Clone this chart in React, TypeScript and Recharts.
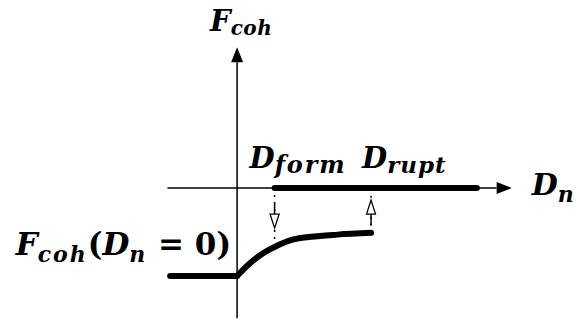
import { ComposedChart, Line, XAxis, YAxis, ReferenceLine, ReferenceDot } from "recharts";

// normalised: F_coh(D_n = 0) = -1, D_rupt = 1
const D_FORM = 0.28;
const D_RUPT = 1.0;
const D_END = 1.79;

const contactBranch = [
  { dn: -0.5, f: -1 },
  { dn: 0, f: -1 },
];

const openingBranch = [
  { dn: 0, f: -1 },
  { dn: 0.1, f: -0.85 },
  { dn: 0.2, f: -0.735 },
  { dn: 0.28, f: -0.67 },
  { dn: 0.42, f: -0.585 },
  { dn: 0.55, f: -0.555 },
  { dn: 0.75, f: -0.53 },
  { dn: 1.0, f: -0.51 },
];

const formedBranch = [
  { dn: D_FORM, f: 0 },
  { dn: D_END, f: 0 },
];

const xAxisSpan = [-0.52, 2.05];
const yAxisSpan = [-1.48, 1.6];

type Part = { t: string; sub?: boolean; up?: boolean };
const fLabel: Part[] = [{ t: "F" }, { t: "coh", sub: true }];
const dnLabel: Part[] = [{ t: "D" }, { t: "n", sub: true }];
const formLabel: Part[] = [{ t: "D" }, { t: "form", sub: true }];
const ruptLabel: Part[] = [{ t: "D" }, { t: "rupt", sub: true }];
const f0Label: Part[] = [...fLabel, { t: "(", up: true }, ...dnLabel, { t: " = 0)", up: true }];

const fAt = (dn: number) => openingBranch.find((d) => d.dn === dn)?.f ?? 0;

function MathText({ x, y, parts, anchor = "start", size = 30, sub = 21, subGap = 0, drop = 6 }: any) {
  let shift = 0;
  return (
    <text
      x={x}
      y={y}
      textAnchor={anchor}
      fontFamily="'DejaVu Serif', serif"
      fontWeight="bold"
      fill="#000"
      style={{ whiteSpace: "pre" }}
    >
      {parts.map((p: Part, i: number) => {
        const target = p.sub ? drop : 0;
        const dy = target - shift;
        shift = target;
        return (
          <tspan
            key={i}
            dy={dy}
            fontSize={p.sub ? sub : size}
            fontStyle={p.up ? "normal" : "italic"}
            letterSpacing={p.sub ? subGap : 0}
          >
            {p.t}
          </tspan>
        );
      })}
    </text>
  );
}

const axisArrow = (p: any) => {
  const { x1, y1, x2, y2 } = p;
  const len = Math.hypot(x2 - x1, y2 - y1);
  const ux = (x2 - x1) / len;
  const uy = (y2 - y1) / len;
  const bx = x2 - ux * 15;
  const by = y2 - uy * 15;
  return (
    <g>
      <line x1={x1} y1={y1} x2={bx} y2={by} stroke="#000" strokeWidth={1.5} />
      <polygon points={`${x2},${y2} ${bx - uy * 6},${by + ux * 6} ${bx + uy * 6},${by - ux * 6}`} fill="#000" />
    </g>
  );
};

const dashedArrow = (tipAt: number) => (p: any) => {
  const { x1, y1, x2, y2 } = p;
  const len = Math.hypot(x2 - x1, y2 - y1);
  const ux = (x2 - x1) / len;
  const uy = (y2 - y1) / len;
  const tx = x1 + ux * len * tipAt;
  const ty = y1 + uy * len * tipAt;
  const bx = tx - ux * 14;
  const by = ty - uy * 14;
  return (
    <g>
      <line x1={x1} y1={y1} x2={x2} y2={y2} stroke="#000" strokeWidth={1.5} strokeDasharray="2 5" />
      <line x1={bx - ux * 11} y1={by - uy * 11} x2={bx} y2={by} stroke="#000" strokeWidth={1.5} />
      <polygon
        points={`${tx},${ty} ${bx - uy * 4.5},${by + ux * 4.5} ${bx + uy * 4.5},${by - ux * 4.5}`}
        fill="#fff"
        stroke="#000"
        strokeWidth={1.3}
      />
    </g>
  );
};

export default function App() {
  return (
    <div style={{ position: "absolute", left: 0, top: 0, background: "#fff" }}>
      <ComposedChart width={580} height={320} margin={{ top: 0, right: 0, bottom: 0, left: 0 }}>
        <XAxis type="number" dataKey="dn" domain={[-1.77, 2.56]} hide allowDataOverflow />
        <YAxis type="number" dataKey="f" domain={[-1.5, 2.136]} hide allowDataOverflow />

        <ReferenceLine segment={[{ x: xAxisSpan[0], y: 0 }, { x: xAxisSpan[1], y: 0 }]} shape={axisArrow} />
        <ReferenceLine segment={[{ x: 0, y: yAxisSpan[0] }, { x: 0, y: yAxisSpan[1] }]} shape={axisArrow} />

        <ReferenceLine segment={[{ x: D_FORM, y: 0 }, { x: D_FORM, y: fAt(D_FORM) }]} shape={dashedArrow(0.68)} />
        <ReferenceLine segment={[{ x: D_RUPT, y: fAt(D_RUPT) }, { x: D_RUPT, y: 0 }]} shape={dashedArrow(0.73)} />

        <Line data={contactBranch} dataKey="f" type="linear" stroke="#000" strokeWidth={6} strokeLinecap="round" dot={false} activeDot={false} isAnimationActive={false} />
        <Line data={openingBranch} dataKey="f" type="monotone" stroke="#000" strokeWidth={6} strokeLinecap="round" dot={false} activeDot={false} isAnimationActive={false} />
        <Line data={formedBranch} dataKey="f" type="linear" stroke="#000" strokeWidth={6} strokeLinecap="round" dot={false} activeDot={false} isAnimationActive={false} />

        <ReferenceDot x={0} y={yAxisSpan[1]} r={0} shape={(p: any) => <MathText x={p.cx - 27} y={p.cy - 16} parts={fLabel} size={29} sub={20} subGap={0.5} drop={4} />} />
        <ReferenceDot x={xAxisSpan[1]} y={0} r={0} shape={(p: any) => <MathText x={p.cx + 20} y={p.cy + 7} parts={dnLabel} sub={22} drop={7} />} />
        <ReferenceDot x={D_FORM} y={0} r={0} shape={(p: any) => <MathText x={p.cx - 25} y={p.cy - 20} parts={formLabel} size={29} sub={24} subGap={1.8} drop={5} />} />
        <ReferenceDot x={D_RUPT} y={0} r={0} shape={(p: any) => <MathText x={p.cx - 9} y={p.cy - 20} parts={ruptLabel} size={29} sub={23} subGap={1} drop={5} />} />
        <ReferenceDot x={0} y={-1} r={0} shape={(p: any) => <MathText x={p.cx - 6} y={p.cy - 21} anchor="end" parts={f0Label} size={31} sub={22} subGap={2} drop={7} />} />
      </ComposedChart>
    </div>
  );
}
